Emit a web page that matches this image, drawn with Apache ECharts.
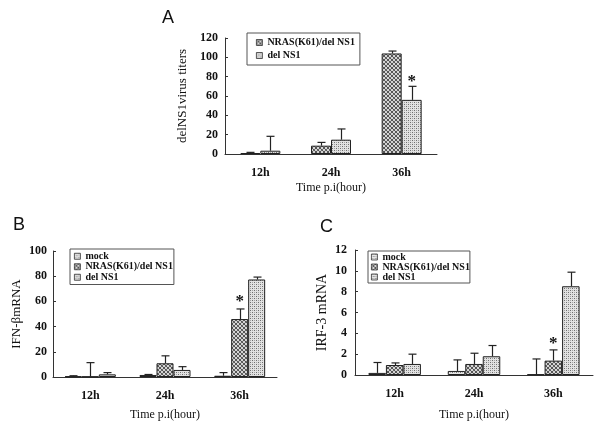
<!DOCTYPE html>
<html>
<head>
<meta charset="utf-8">
<script src="https://cdn.jsdelivr.net/npm/echarts@6/dist/echarts.min.js"></script>
<style>
html,body{margin:0;padding:0;background:#fff;}
#main{width:600px;height:428px;}
</style>
</head>
<body>
<div id="main"></div>
<script>
// ---------- data ----------
const categories = ['12h', '24h', '36h'];

// Panel A: delNS1 virus titers
const aNras = [1, 8.6, 104];
const aNrasErr = [0.7, 3.4, 2.5];
const aDel = [3.4, 14.8, 56];
const aDelErr = [14.9, 11.1, 14];
const aStar = [2, 1, 78]; // category index, bar slot, y

// Panel B: IFN-beta mRNA
const bMock = [0.5, 1.6, 1];
const bMockErr = [0.5, 0.4, 2.5];
const bNras = [0.3, 10.9, 46];
const bNrasErr = [11.1, 5.9, 8];
const bDel = [2.1, 5.6, 77.4];
const bDelErr = [1.4, 2.6, 1.9];
const bStar = [2, 1, 62.5];

// Panel C: IRF-3 mRNA
const cMock = [0.2, 0.39, 0.06];
const cMockErr = [1.0, 1.06, 1.48];
const cNras = [0.96, 1.06, 1.38];
const cNrasErr = [0.2, 1.03, 1.03];
const cDel = [1.06, 1.8, 8.52];
const cDelErr = [0.94, 1.03, 1.35];
const cStar = [2, 1, 3.3];

const nameMock = 'mock';
const nameNras = 'NRAS(K61)/del NS1';
const nameDel = 'del NS1';

// ---------- patterns ----------
function makePattern(size, bg, dots) {
  const c = document.createElement('canvas');
  c.width = size; c.height = size;
  const ctx = c.getContext('2d');
  ctx.fillStyle = bg; ctx.fillRect(0, 0, size, size);
  dots.forEach(d => { ctx.fillStyle = d[2]; ctx.fillRect(d[0], d[1], 1, 1); });
  return { image: c, repeat: 'repeat' };
}
const D = '#555555';
const patNras = makePattern(4, '#d4d4d4', [
  [0,0,D],[1,1,D],[2,2,D],[3,3,D],[3,0,D],[2,1,'#6a6a6a'],[1,2,'#6a6a6a'],[0,3,D]
]);
const patDel = makePattern(4, '#e2e2e2', [
  [0,0,'#6e6e6e'],[2,2,'#6e6e6e'],[2,0,'#a4a4a4'],[0,2,'#a4a4a4']
]);
const patMock = makePattern(4, '#e6e6e6', [
  [0,0,'#7a7a7a'],[2,2,'#7a7a7a'],[2,0,'#b0b0b0'],[0,2,'#b0b0b0']
]);

const serif = 'Liberation Serif';
const barBorder = { borderColor: '#222', borderWidth: 1 };

function barSeries(name, data, pat, gi, bw) {
  return {
    type: 'bar', name: name, data: data, xAxisIndex: gi, yAxisIndex: gi,
    barWidth: bw, barGap: '0%',
    itemStyle: Object.assign({ color: pat }, barBorder),
    emphasis: { disabled: true }, animation: false
  };
}

function errSeries(vals, errs, slot, nSlots, bw, gi) {
  const data = vals.map((v, i) => [i, v, errs[i]]);
  return {
    type: 'custom', xAxisIndex: gi, yAxisIndex: gi, data: data, z: 5,
    silent: true, animation: false,
    renderItem: function (params, api) {
      const cat = api.value(0), v = api.value(1), e = api.value(2);
      const p0 = api.coord([cat, v]);
      const p1 = api.coord([cat, v + e]);
      const x = Math.round(p0[0] + (slot - (nSlots - 1) / 2) * bw) + 0.5;
      const st = { stroke: '#222', lineWidth: 1.2 };
      return {
        type: 'group', children: [
          { type: 'line', shape: { x1: x, y1: p0[1], x2: x, y2: p1[1] }, style: st },
          { type: 'line', shape: { x1: x - 4, y1: p1[1], x2: x + 4, y2: p1[1] }, style: st }
        ]
      };
    }
  };
}

function starSeries(star, nSlots, bw, gi) {
  return {
    type: 'custom', xAxisIndex: gi, yAxisIndex: gi, data: [star], z: 6,
    silent: true, animation: false,
    renderItem: function (params, api) {
      const cat = api.value(0), slot = api.value(1), y = api.value(2);
      const p = api.coord([cat, y]);
      const x = p[0] + (slot - (nSlots - 1) / 2) * bw;
      return {
        type: 'text',
        style: { text: '*', x: x, y: p[1] + 3, align: 'center', verticalAlign: 'middle',
                 font: 'bold 17px "Liberation Serif"', fill: '#111' }
      };
    }
  };
}

function xAxis(gi, gap) {
  return {
    type: 'category', gridIndex: gi, data: categories,
    name: 'Time p.i(hour)', nameLocation: 'middle', nameGap: gap,
    nameTextStyle: { fontFamily: serif, fontSize: 12, color: '#111' },
    axisLine: { lineStyle: { color: '#333', width: 1 } },
    axisTick: { inside: true, length: 3, lineStyle: { color: '#333' } },
    axisLabel: { fontFamily: serif, fontWeight: 'bold', fontSize: 12, color: '#111', margin: 13 },
    splitLine: { show: false }
  };
}
function yAxis(gi, max, interval, name, gap, nameSize, labMargin) {
  return {
    type: 'value', gridIndex: gi, min: 0, max: max, interval: interval,
    name: name, nameLocation: 'middle', nameGap: gap,
    nameTextStyle: { fontFamily: serif, fontSize: nameSize, color: '#111' },
    axisLine: { show: true, lineStyle: { color: '#333', width: 1 } },
    axisTick: { show: true, inside: true, length: 3, lineStyle: { color: '#333' } },
    axisLabel: { fontFamily: serif, fontWeight: 'bold', fontSize: 12, color: '#111', margin: labMargin },
    splitLine: { show: false }
  };
}
function legend(left, top, names, lineH, pad) {
  return {
    left: left, top: top, orient: 'vertical', data: names,
    icon: 'rect',
    itemWidth: 6, itemHeight: 6, itemGap: 0,
    borderColor: '#555', borderWidth: 1, padding: pad,
    selectedMode: false,
    itemStyle: { borderColor: '#333', borderWidth: 0.8 },
    textStyle: { fontFamily: serif, fontWeight: 'bold', fontSize: 10, color: '#111', lineHeight: lineH }
  };
}

const bwA = 20, bwB = 17, bwC = 17.5;
const titleStyle = { fontFamily: 'Liberation Sans', fontWeight: 'normal', fontSize: 18, color: '#111' };

const option = {
  backgroundColor: '#fff',
  animation: false,
  title: [
    { text: 'A', left: 157, top: 4, textStyle: titleStyle },
    { text: 'B', left: 8, top: 211, textStyle: titleStyle },
    { text: 'C', left: 315, top: 213, textStyle: titleStyle }
  ],
  legend: [
    legend(247, 33, [nameNras, nameDel], 13, [3, 5, 3, 9]),
    legend(70, 249, [nameMock, nameNras, nameDel], 10.5, [2, 1, 2, 4]),
    legend(368, 251, [nameMock, nameNras, nameDel], 10, [1, 0, 1, 3])
  ],
  grid: [
    { left: 225, top: 38, width: 212, height: 116 },
    { left: 53, top: 251, width: 224, height: 126 },
    { left: 355, top: 250, width: 238, height: 125 }
  ],
  xAxis: [xAxis(0, 28), xAxis(1, 32), xAxis(2, 34)],
  yAxis: [
    yAxis(0, 120, 20, 'delNS1virus titers', 35.5, 13, 7),
    yAxis(1, 100, 20, 'IFN-\u03b2mRNA', 29.5, 13, 6),
    yAxis(2, 12, 2, 'IRF-3 mRNA', 26, 14, 8)
  ],
  series: [
    barSeries(nameNras, aNras, patNras, 0, bwA),
    barSeries(nameDel, aDel, patDel, 0, bwA),
    errSeries(aNras, aNrasErr, 0, 2, bwA, 0),
    errSeries(aDel, aDelErr, 1, 2, bwA, 0),
    starSeries(aStar, 2, bwA, 0),

    barSeries(nameMock, bMock, patMock, 1, bwB),
    barSeries(nameNras, bNras, patNras, 1, bwB),
    barSeries(nameDel, bDel, patDel, 1, bwB),
    errSeries(bMock, bMockErr, 0, 3, bwB, 1),
    errSeries(bNras, bNrasErr, 1, 3, bwB, 1),
    errSeries(bDel, bDelErr, 2, 3, bwB, 1),
    starSeries(bStar, 3, bwB, 1),

    barSeries(nameMock, cMock, patMock, 2, bwC),
    barSeries(nameNras, cNras, patNras, 2, bwC),
    barSeries(nameDel, cDel, patDel, 2, bwC),
    errSeries(cMock, cMockErr, 0, 3, bwC, 2),
    errSeries(cNras, cNrasErr, 1, 3, bwC, 2),
    errSeries(cDel, cDelErr, 2, 3, bwC, 2),
    starSeries(cStar, 3, bwC, 2)
  ]
};

const chart = echarts.init(document.getElementById('main'), null, { renderer: 'canvas' });
chart.setOption(option);
</script>
</body>
</html>
